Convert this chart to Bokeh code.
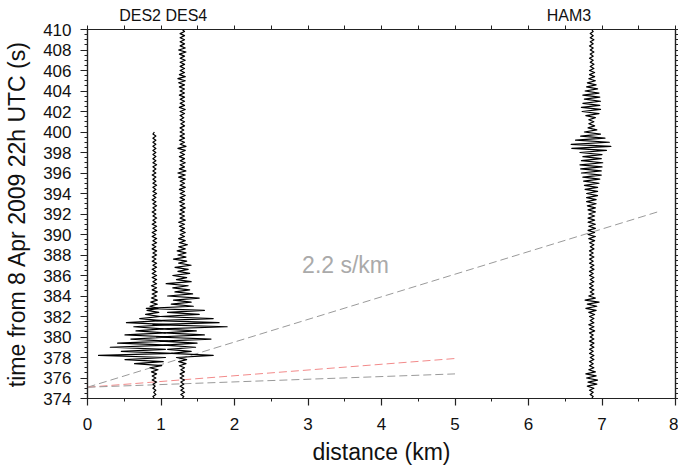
import numpy as np
from bokeh.plotting import figure
from bokeh.models import Range1d, LinearAxis, SingleIntervalTicker, FixedTicker, Label
from bokeh.embed import file_html
from bokeh.resources import INLINE

# ---------------- data ----------------
DT = 0.2            # sample interval of the traces (s)
T_START = 374.0     # first sample time (s)

stations = ["DES2", "DES4", "HAM3"]
station_dist = [0.91, 1.29, 6.86]          # km
# station names as they are printed above the frame
top_label_x = [1.03, 6.55]
top_label_text = ["DES2 DES4", "HAM3"]

# trace offsets (km) from the station distance, one sample every DT seconds
des2 = [
    0.00, -0.02, 0.02, -0.01, 0.02, -0.02, 0.01, -0.02, 0.03, -0.03,
    0.02, -0.03, 0.03, -0.04, 0.05, -0.06, 0.10, -0.27, 0.12, -0.40,
    0.15, -0.76, 0.25, -0.45, 0.15, -0.60, 0.20, -0.50, 0.18, -0.32,
    0.22, -0.40, 0.15, -0.25, 0.12, -0.28, 0.20, -0.38, 0.10, -0.20,
    0.08, -0.12, 0.06, -0.10, 0.05, -0.06, 0.04, -0.05, 0.04, -0.04,
    0.03, -0.03, 0.04, -0.03, 0.03, -0.04, 0.03, -0.02, 0.03, -0.03,
    0.03, -0.03, 0.02, -0.03, 0.03, -0.02, 0.03, -0.03, 0.02, -0.03,
    0.03, -0.02, 0.03, -0.03, 0.02, -0.03, 0.03, -0.02, 0.03, -0.03,
    0.02, -0.03, 0.03, -0.02, 0.03, -0.03, 0.02, -0.02, 0.03, -0.02,
    0.02, -0.03, 0.02, -0.02, 0.03, -0.02, 0.02, -0.03, 0.02, -0.02,
    0.03, -0.02, 0.02, -0.02, 0.03, -0.02, 0.02, -0.02, 0.02, -0.03,
    0.02, -0.02, 0.02, -0.02, 0.03, -0.02, 0.02, -0.02, 0.02, -0.02,
    0.02, -0.02, 0.02, -0.02, 0.02, -0.02, 0.02, -0.02, 0.02, -0.02,
    0.00,
]
des4 = [
    0.00, 0.02, -0.02, 0.03, -0.02, 0.02, -0.03, 0.02, -0.02, 0.03,
    -0.03, 0.02, -0.03, 0.03, -0.02, 0.03, -0.04, 0.05, -0.05, 0.06,
    -0.08, 0.42, -0.15, 0.12, -0.20, 0.18, -0.25, 0.20, -0.30, 0.39,
    -0.35, 0.30, -0.25, 0.19, -0.30, 0.61, -0.40, 0.50, -0.35, 0.42,
    -0.30, 0.23, -0.20, 0.30, -0.49, 0.15, -0.15, 0.12, -0.12, 0.23,
    -0.20, 0.14, -0.10, 0.10, -0.13, 0.08, -0.22, 0.12, -0.08, 0.06,
    -0.13, 0.10, -0.06, 0.08, -0.10, 0.12, -0.05, 0.06, -0.12, 0.05,
    -0.06, 0.05, -0.07, 0.04, -0.05, 0.07, -0.04, 0.04, -0.05, 0.03,
    -0.03, 0.04, -0.03, 0.03, -0.04, 0.03, -0.05, 0.04, -0.03, 0.03,
    -0.04, 0.03, -0.03, 0.04, -0.03, 0.03, -0.04, 0.03, -0.03, 0.04,
    -0.03, 0.03, -0.04, 0.04, -0.03, 0.03, -0.03, 0.04, -0.05, 0.04,
    -0.06, 0.05, -0.04, 0.03, -0.03, 0.04, -0.03, 0.03, -0.04, 0.03,
    -0.03, 0.04, -0.06, 0.05, -0.03, 0.03, -0.04, 0.03, -0.03, 0.03,
    -0.03, 0.02, -0.03, 0.03, -0.02, 0.03, -0.03, 0.02, -0.03, 0.03,
    -0.03, 0.04, -0.04, 0.03, -0.03, 0.03, -0.03, 0.03, -0.04, 0.03,
    -0.03, 0.03, -0.04, 0.03, -0.05, 0.04, -0.06, 0.04, -0.04, 0.03,
    -0.03, 0.03, -0.03, 0.03, -0.03, 0.04, -0.03, 0.03, -0.04, 0.05,
    -0.05, 0.04, -0.03, 0.03, -0.03, 0.03, -0.03, 0.03, -0.03, 0.03,
    0.00,
]
ham3 = [
    0.00, 0.02, -0.02, 0.02, -0.03, 0.03, -0.06, 0.07, -0.05, 0.08,
    -0.07, 0.06, -0.08, 0.05, -0.04, 0.03, -0.03, 0.02, -0.03, 0.03,
    -0.02, 0.03, -0.03, 0.02, -0.03, 0.03, -0.02, 0.03, -0.03, 0.03,
    -0.02, 0.02, -0.03, 0.04, -0.03, 0.03, -0.04, 0.03, -0.02, 0.03,
    -0.03, 0.04, -0.04, 0.06, -0.08, 0.07, -0.06, 0.10, -0.09, 0.05,
    -0.04, 0.03, -0.02, 0.03, -0.03, 0.02, -0.03, 0.03, -0.02, 0.03,
    -0.03, 0.02, -0.03, 0.03, -0.02, 0.03, -0.03, 0.02, -0.03, 0.03,
    -0.03, 0.02, -0.03, 0.03, -0.02, 0.03, -0.03, 0.04, -0.04, 0.05,
    -0.05, 0.04, -0.05, 0.05, -0.04, 0.05, -0.05, 0.04, -0.05, 0.04,
    -0.04, 0.05, -0.05, 0.05, -0.06, 0.06, -0.07, 0.06, -0.07, 0.08,
    -0.07, 0.08, -0.09, 0.08, -0.10, 0.10, -0.11, 0.11, -0.12, 0.13,
    -0.14, 0.13, -0.15, 0.14, -0.16, 0.15, -0.14, 0.13, -0.12, 0.14,
    -0.16, 0.20, -0.27, 0.26, -0.28, 0.24, -0.22, 0.18, -0.15, 0.12,
    -0.10, 0.07, -0.05, 0.04, -0.04, 0.03, -0.04, 0.05, -0.08, 0.10,
    -0.13, 0.12, -0.14, 0.11, -0.12, 0.12, -0.10, 0.11, -0.12, 0.10,
    -0.09, 0.08, -0.07, 0.06, -0.06, 0.05, -0.04, 0.04, -0.03, 0.04,
    -0.03, 0.03, -0.02, 0.03, -0.02, 0.02, -0.03, 0.02, -0.02, 0.03,
    -0.02, 0.02, -0.03, 0.02, -0.02, 0.03, -0.02, 0.02, -0.02, 0.02,
    0.00,
]
traces = [des2, des4, ham3]

# reference move-out lines: distance (km) and time (s) end points
slow_x = [0.0, 7.8]
slow_t = [375.1, 392.3]
red_x = [0.0, 5.0]
red_t = [375.1, 377.9]
gray_x = [0.0, 5.0]
gray_t = [375.1, 376.4]
slow_label = "2.2 s/km"
slow_label_pos = (2.92, 387.0)

X_MIN, X_MAX = 0, 8
T_MIN, T_MAX = 374, 410

FONT = "Liberation Sans"
INK = "#222222"

# ---------------- figure ----------------
p = figure(frame_width=588, frame_height=369,
           x_range=Range1d(X_MIN, X_MAX), y_range=Range1d(T_MIN, T_MAX),
           output_backend="svg", toolbar_location=None,
           min_border_left=87, min_border_top=29, min_border_right=0,
           min_border_bottom=0)
p.grid.visible = False
p.outline_line_color = INK
p.outline_line_width = 1.2
p.background_fill_color = "white"
p.border_fill_color = "white"


def style_axis(ax, tick_out, minor_out):
    ax.major_tick_out = tick_out
    ax.major_tick_in = 0
    ax.minor_tick_out = minor_out
    ax.minor_tick_in = 0
    ax.axis_line_color = INK
    ax.axis_line_width = 1.2
    ax.major_tick_line_color = INK
    ax.minor_tick_line_color = INK
    ax.major_tick_line_width = 1.2
    ax.minor_tick_line_width = 1
    ax.major_label_text_font = FONT
    ax.major_label_text_color = "#111111"
    ax.major_label_text_font_size = "17px"
    ax.axis_label_text_font = FONT
    ax.axis_label_text_font_style = "normal"
    ax.axis_label_text_color = "#111111"


xb = p.xaxis[0]
xb.ticker = SingleIntervalTicker(interval=1, num_minor_ticks=2)
style_axis(xb, 7, 3)
xb.major_label_standoff = 12
xb.axis_label = "distance (km)"
xb.axis_label_text_font_size = "23px"
xb.axis_label_standoff = 6

yl = p.yaxis[0]
yl.ticker = SingleIntervalTicker(interval=2, num_minor_ticks=4)
style_axis(yl, 7, 3)
yl.major_label_standoff = 9
yl.axis_label = "time from 8 Apr 2009 22h UTC (s)"
yl.axis_label_text_font_size = "23px"
yl.axis_label_standoff = 10

# top axis: half-km ticks, station names as labels
half_km = list(np.arange(X_MIN, X_MAX + 0.25, 0.5))
xt = LinearAxis(ticker=FixedTicker(ticks=top_label_x, minor_ticks=half_km))
style_axis(xt, 0, 4)
xt.major_label_overrides = {v: s for v, s in zip(top_label_x, top_label_text)}
xt.major_label_text_font_size = "16px"
xt.major_label_standoff = 2
p.add_layout(xt, "above")

# right axis: ticks only
half_s = list(np.arange(T_MIN, T_MAX + 0.25, 0.5))
yr = LinearAxis(ticker=FixedTicker(ticks=[], minor_ticks=half_s))
style_axis(yr, 0, 3)
yr.major_label_standoff = 0
p.add_layout(yr, "right")

# move-out lines
p.line(slow_x, slow_t, line_color="#9a9a9a", line_width=1, line_dash="8 4")
p.line(red_x, red_t, line_color="#f28a8a", line_width=1, line_dash="8 4")
p.line(gray_x, gray_t, line_color="#9a9a9a", line_width=1, line_dash="8 4")

# seismograms
for dist, offs in zip(station_dist, traces):
    offs = np.asarray(offs)
    t = T_START + DT * np.arange(len(offs))
    p.line(dist + offs, t, line_color="black", line_width=1.2, line_join="round")

p.add_layout(Label(x=slow_label_pos[0], y=slow_label_pos[1], text=slow_label,
                   text_align="left", text_baseline="alphabetic", text_font=FONT,
                   text_font_size="23px", text_color="#aaaaaa"))

open("out.html", "w").write(file_html(p, INLINE))
